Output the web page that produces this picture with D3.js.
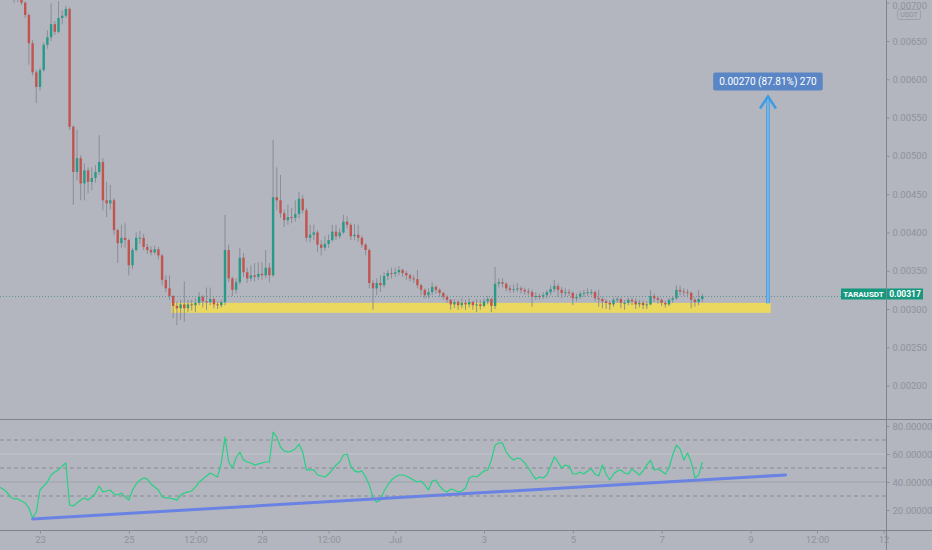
<!DOCTYPE html>
<html><head><meta charset="utf-8">
<script src="https://cdn.jsdelivr.net/npm/d3@7"></script>
<style>html,body{margin:0;padding:0;background:#b3b6be;overflow:hidden}svg{display:block}</style>
</head><body><svg id="c" width="932" height="550"></svg>
<script>
// ---- DATA (prices in units of 0.00001 USDT, time in hours since 22 Jun 00:00) ----
const symbol = "TARAUSDT";
const quoteCurrency = "USDT";
const startHour = 2, stepHours = 2;
const firstOpen = 720;
const closes = [715,712,718,714,708,710,700,684,647,609,590,612,645,655,672,662,680,683,692,538,
479,497,464,481,466,471,479,492,442,438,442,403,386,393,390,357,377,393,393,381,
377,374,378,370,338,327,317,304,301,306,301,306,305,308,316,310,309,313,306,305,
309,377,340,325,335,367,348,340,344,342,346,344,354,344,446,442,425,416,420,419,
424,444,429,393,397,400,384,380,385,390,401,395,400,414,410,395,397,393,384,377,
334,327,334,331,343,347,346,348,351,347,344,340,339,331,325,318,322,329,325,321,
316,312,306,309,305,308,306,309,305,306,304,310,313,304,333,335,333,327,325,326,
327,325,323,322,316,317,316,318,322,326,330,325,321,322,321,314,316,320,321,322,
322,314,313,310,308,306,312,313,308,308,312,310,306,308,305,306,317,314,312,308,
306,312,314,325,323,322,321,312,309,313,317];
const highs = [725,722,728,722,718,716,712,702,686,651,612,615,648,664,699,676,702,690,696,694,
540,534,501,490,485,485,488,527,497,466,462,445,405,410,412,392,380,400,402,398,
385,382,383,381,372,344,344,318,310,312,336,312,312,314,322,318,328,328,315,310,
312,423,384,342,340,380,373,354,357,360,361,361,377,360,521,485,475,430,436,432,
442,453,449,432,410,410,403,390,395,397,410,410,405,423,421,412,411,410,396,386,
379,338,340,344,348,351,354,354,356,353,350,346,344,351,333,327,327,335,331,327,
322,318,313,313,312,314,312,314,311,313,312,314,317,315,355,340,340,335,331,332,
334,330,328,327,325,322,320,322,325,331,338,333,329,327,326,323,320,323,325,327,
326,324,325,316,313,311,315,316,315,312,315,315,314,312,311,310,325,320,317,314,
311,314,317,331,330,327,326,323,315,325,320];
const lows = [708,705,708,706,700,701,697,680,619,605,569,585,610,640,650,658,660,672,680,534,
436,468,442,442,451,455,465,475,429,420,430,397,360,380,380,344,352,375,385,377,
372,370,371,365,331,322,312,288,279,286,283,296,298,296,305,302,299,305,301,300,
302,305,335,317,320,332,342,334,336,336,338,338,340,335,342,429,419,407,410,412,
414,418,425,388,387,390,374,370,376,380,388,390,392,398,405,390,390,388,380,370,
327,299,318,322,328,338,340,342,344,342,338,336,334,327,318,314,314,318,320,316,
312,308,299,301,299,301,299,302,299,296,299,302,306,296,300,328,328,323,321,321,
322,320,319,318,303,312,312,313,314,318,322,316,314,316,317,305,310,313,316,317,
318,310,303,301,300,299,303,308,301,299,305,305,300,302,300,300,305,309,307,304,
302,304,308,312,318,317,316,301,303,305,309];
const rsiValues = [36.4,35,32.9,29.3,27.9,27.9,26.4,25,21.4,14.3,
18.6,34.3,37.1,40,45,47.1,48.6,51.4,53.6,23.6,
22.9,25,27.1,28.6,27.1,29.3,32.1,37.1,32.9,33.6,
34.3,31.4,30.7,32.1,29.3,27.1,34.3,38.6,41.4,42.9,
42.1,38.6,36.4,34.3,29.3,28.6,28.6,27.9,27.1,30.7,
32.1,32.9,33.6,36.4,40,42.1,44.3,46.4,45,43.6,
53.6,72.1,54.3,50,57.1,61.4,55.7,54.3,53.6,52.1,
52.9,53.6,54.3,54.3,75.7,72.1,65,62.1,61.4,62.1,
63.6,67.1,61.4,48.6,48.6,48.6,45,44.3,43.6,45.7,
48.6,52.1,54.3,59.3,60,51.4,47.9,47.1,47.9,43.6,
37.9,28.6,25.7,27.1,33.6,37.9,41.4,43.6,45,45,
44.3,42.9,41.4,40,40.7,37.9,34.3,40.7,41.4,37.1,
34.3,32.9,35,34.3,32.9,33.6,35.7,42.9,44.3,43.6,
45.7,47.9,48.6,55.7,66.4,67.9,67.9,61.4,57.9,55.7,
57.1,56.4,53.6,50,45.7,42.1,43.6,42.9,45,51.4,
57.9,54.3,50,52.1,51.4,45.7,45.7,47.1,45.7,47.9,
49.3,45.7,44.3,52.1,45.7,41.4,45.7,47.9,48.6,46.4,
45.7,49.3,47.1,45,47.9,52.1,55.7,48.6,49.3,47.9,
45.7,50,59.3,66.4,63.6,55.7,60.7,54.3,42.9,45,
54.3];
const lastPrice = 317;
const priceTicks = [200,250,300,350,400,450,500,550,600,650,700];
const rsiTicks = [20,40,60,80];
const rsiDashedLevels = [30,50,70];
const rsiGridLevels = [40,60];
const xTickHours = [24,72,108,144,180,216,264,312,360,408,444,480];
const xTickLabels = ["23","25","12:00","28","12:00","Jul","3","5","7","9","12:00","12"];
// support zone (time range / price range)
const zoneHours = [95, 419];
const zonePrices = [295, 308];
// projection arrow
const arrowHour = 417.5;
const arrowPrices = [307.5, 577.5];
const arrowLabel = "0.00270 (87.81%) 270";
// RSI trend line end points [hour, rsi]
const rsiTrendHours = [20, 427];
const rsiTrendValues = [13.6, 45];

// ---- LAYOUT ----
const W = 932, H = 550, axisX = 886, paneSplit = 419.5, bottomAxisY = 530.5;
const svg = d3.select("#c");
const bg = "#b3b6be";
svg.append("rect").attr("width", W).attr("height", H).attr("fill", bg);

const x = d3.scaleLinear().domain([24, 480]).range([40, 883.6]);
const y = d3.scaleLinear().domain([300, 650]).range([309, 41]);
const yR = d3.scaleLinear().domain([20, 80]).range([510, 426]);

const defs = svg.append("defs");
defs.append("clipPath").attr("id", "cm").append("rect").attr("x", 0).attr("y", 0).attr("width", axisX).attr("height", paneSplit);
defs.append("clipPath").attr("id", "cr").append("rect").attr("x", 0).attr("y", paneSplit + 0.5).attr("width", axisX).attr("height", bottomAxisY - paneSplit - 1);

const main = svg.append("g").attr("clip-path", "url(#cm)");
const rsiG = svg.append("g").attr("clip-path", "url(#cr)");

// zone
main.append("rect")
  .attr("x", x(zoneHours[0])).attr("width", x(zoneHours[1]) - x(zoneHours[0]))
  .attr("y", y(zonePrices[1])).attr("height", y(zonePrices[0]) - y(zonePrices[1]))
  .attr("fill", "#ead85f");

// last price dotted line
main.append("line").attr("x1", 0).attr("x2", 841).attr("y1", Math.round(y(lastPrice)) + 0.5).attr("y2", Math.round(y(lastPrice)) + 0.5)
  .attr("stroke", "#5f948f").attr("stroke-dasharray", "1,2").attr("stroke-width", 1);

// candles
const candles = closes.map((c, i) => ({
  t: startHour + i * stepHours,
  o: i === 0 ? firstOpen : closes[i - 1], c, h: highs[i], l: lows[i]
}));
const up = "#2a9a88", down = "#c25450", wick = "#868992";
const bw = 2.4;
const cg = main.append("g");
cg.selectAll("line.w").data(candles).join("line").attr("class", "w")
  .attr("x1", d => x(d.t)).attr("x2", d => x(d.t))
  .attr("y1", d => y(d.h)).attr("y2", d => y(d.l))
  .attr("stroke", wick).attr("stroke-width", 0.9);
cg.selectAll("rect.b").data(candles).join("rect").attr("class", "b")
  .attr("x", d => x(d.t) - bw / 2).attr("width", bw)
  .attr("y", d => y(Math.max(d.o, d.c)))
  .attr("height", d => Math.max(1, Math.abs(y(d.o) - y(d.c))))
  .attr("fill", d => d.c >= d.o ? up : down);

// arrow
const ax = x(arrowHour), ay0 = y(arrowPrices[0]), ay1 = y(arrowPrices[1]);
const ag = svg.append("g");
ag.append("line").attr("x1", ax).attr("x2", ax).attr("y1", ay0).attr("y2", ay1)
  .attr("stroke", "#3f9be2").attr("stroke-width", 3.5);
ag.append("line").attr("x1", ax).attr("x2", ax).attr("y1", ay0).attr("y2", ay1 + 2)
  .attr("stroke", "#9fd0f3").attr("stroke-width", 1);
ag.append("path").attr("d", `M${ax - 8},${ay1 + 12}L${ax},${ay1}L${ax + 8},${ay1 + 12}`)
  .attr("fill", "none").attr("stroke", "#3f9be2").attr("stroke-width", 2.5).attr("stroke-linejoin", "miter");
const lt = ag.append("text").attr("x", ax).attr("y", ay1 - 11.5).attr("text-anchor", "middle")
  .attr("font-family", "Roboto, 'Open Sans', sans-serif").attr("font-size", 10).attr("fill", "#fff")
  .text(arrowLabel);
const tw = lt.node().getComputedTextLength();
ag.insert("rect", "text").attr("x", ax - tw / 2 - 6).attr("width", tw + 12)
  .attr("y", ay1 - 24).attr("height", 18).attr("rx", 2).attr("fill", "#5a86c5");

// RSI pane
rsiDashedLevels.forEach(v => {
  rsiG.append("line").attr("x1", 0).attr("x2", axisX).attr("y1", yR(v)).attr("y2", yR(v))
    .attr("stroke", "#878a93").attr("stroke-dasharray", "4,3").attr("stroke-width", 1);
});
rsiGridLevels.forEach(v => {
  rsiG.append("line").attr("x1", 0).attr("x2", axisX).attr("y1", yR(v)).attr("y2", yR(v))
    .attr("stroke", v === 60 ? "#c2c4ca" : "#9ea1a9").attr("stroke-width", 1);
});
const rsiLine = d3.line().x((d, i) => x(startHour + i * stepHours)).y(d => yR(d));
rsiG.append("path").datum(rsiValues).attr("d", rsiLine)
  .attr("fill", "none").attr("stroke", "#27d184").attr("stroke-width", 1.2).attr("stroke-linejoin", "round");
rsiG.append("line")
  .attr("x1", x(rsiTrendHours[0])).attr("y1", yR(rsiTrendValues[0]))
  .attr("x2", x(rsiTrendHours[1])).attr("y2", yR(rsiTrendValues[1]))
  .attr("stroke", "#6a82e4").attr("stroke-width", 3).attr("stroke-linecap", "round");

// separators
svg.append("line").attr("x1", 0).attr("x2", W).attr("y1", paneSplit).attr("y2", paneSplit).attr("stroke", "#80838c");
svg.append("line").attr("x1", 0).attr("x2", W).attr("y1", bottomAxisY).attr("y2", bottomAxisY).attr("stroke", "#80838c");
svg.append("line").attr("x1", axisX + 0.5).attr("x2", axisX + 0.5).attr("y1", 0).attr("y2", H).attr("stroke", "#80838c");

const font = "Roboto, 'Open Sans', sans-serif";
const labelColor = "#8e929b";
function styleAxis(g) {
  g.select(".domain").remove();
  g.selectAll(".tick line").attr("stroke", "#8a8d96");
  g.selectAll("text").attr("fill", labelColor).attr("font-family", font).attr("font-size", 9.5);
}
const pAxis = svg.append("g").attr("transform", `translate(${axisX + 0.5},0)`)
  .call(d3.axisRight(y).tickValues(priceTicks).tickSize(3).tickPadding(3).tickFormat(d => (d / 1e5).toFixed(5)))
  .call(styleAxis);
// keep the topmost label inside the picture
pAxis.selectAll(".tick").filter(d => y(d) < 6).select("text").attr("dy", "0.32em").attr("y", 5 - y(700) + 0.5);
svg.append("g").attr("transform", `translate(${axisX + 0.5},0)`)
  .call(d3.axisRight(yR).tickValues(rsiTicks).tickSize(3).tickPadding(3).tickFormat(d => d.toFixed(5)))
  .call(styleAxis);
svg.append("g").attr("transform", `translate(0,${bottomAxisY})`)
  .call(d3.axisBottom(x).tickValues(xTickHours).tickSize(3).tickPadding(3).tickFormat((d, i) => xTickLabels[i]))
  .call(styleAxis);

// currency badge
svg.append("rect").attr("x", 897.5).attr("y", 9.5).attr("width", 23).attr("height", 10).attr("rx", 2)
  .attr("fill", "none").attr("stroke", "#9da0a8");
svg.append("text").attr("x", 909).attr("y", 17.3).attr("text-anchor", "middle").attr("font-family", font)
  .attr("font-size", 7).attr("fill", labelColor).text(quoteCurrency);

// last price tags
const ly = y(lastPrice) - 2;
svg.append("rect").attr("x", 841).attr("y", ly - 5.5).attr("width", axisX - 841).attr("height", 11).attr("fill", "#16987f");
svg.append("text").attr("x", (841 + axisX) / 2).attr("y", ly + 3.3).attr("text-anchor", "middle")
  .attr("font-family", font).attr("font-size", 8).attr("font-weight", "bold").attr("fill", "#fff").text(symbol);
svg.append("rect").attr("x", axisX + 1).attr("y", ly - 5.5).attr("width", 36).attr("height", 11).attr("fill", "#16987f");
svg.append("text").attr("x", axisX + 19).attr("y", ly + 3.3).attr("text-anchor", "middle")
  .attr("font-family", font).attr("font-size", 8.5).attr("font-weight", "bold").attr("fill", "#fff")
  .text((lastPrice / 1e5).toFixed(5));
</script>
</body></html>
